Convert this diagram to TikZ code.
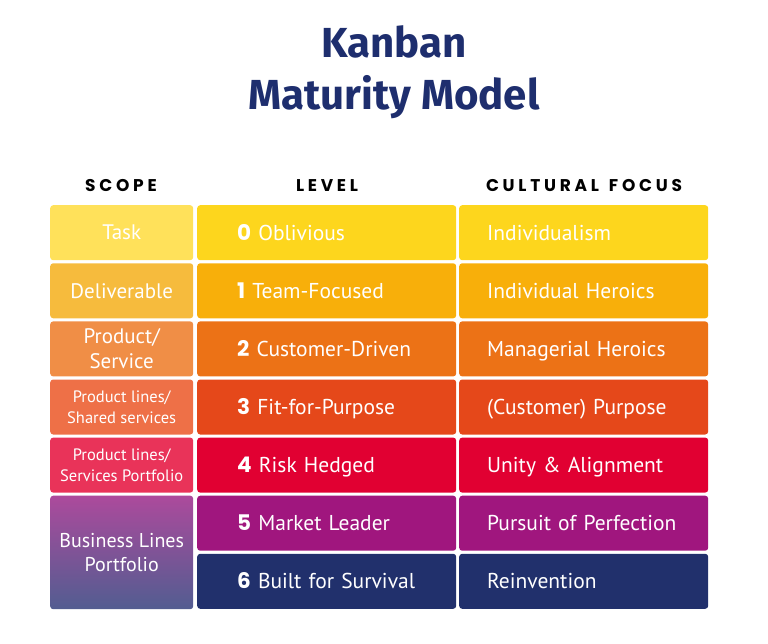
\documentclass[tikz,border=0pt]{standalone}
\usepackage{fontspec}
\setmainfont{PT Sans}
\newfontfamily\titlefont{Fira Sans}
\newfontfamily\headfont[LetterSpace=22]{Poppins}
\newfontfamily\numfont{Poppins}

\definecolor{kmnavy}{HTML}{1E2E6E}
% scope column
\definecolor{sc0}{HTML}{FFE15A}
\definecolor{sc1}{HTML}{F6BB3D}
\definecolor{sc2}{HTML}{F08E46}
\definecolor{sc3}{HTML}{EE7047}
\definecolor{sc4}{HTML}{E93359}
\definecolor{sc5a}{HTML}{AC4A9C}
\definecolor{sc5b}{HTML}{525D91}
% level and cultural focus columns
\definecolor{lv0}{HTML}{FDD61D}
\definecolor{lv1}{HTML}{F8AF0A}
\definecolor{lv2}{HTML}{EC7216}
\definecolor{lv3}{HTML}{E5481A}
\definecolor{lv4}{HTML}{E10032}
\definecolor{lv5}{HTML}{A0167E}
\definecolor{lv6}{HTML}{21306C}

\begin{document}
\begin{tikzpicture}[x=1pt,y=-1pt,
 cell/.style={rectangle,rounded corners=3pt,anchor=north west,
   minimum height=55pt,inner sep=0pt,text=white},
 scopecell/.style={cell,minimum width=143pt,align=center,
   font=\fontsize{21}{25}\selectfont},
 smallscope/.style={scopecell,font=\fontsize{16.5}{21}\selectfont},
 lvlcell/.style={cell,text width=179pt,inner xsep=40pt,align=left,
   text height=15pt,text depth=0pt,font=\fontsize{21.5}{25}\selectfont},
 cultcell/.style={lvlcell,text width=193pt,inner xsep=28pt},
 head/.style={anchor=base,font=\headfont\bfseries\fontsize{17}{20}\selectfont},
 title/.style={anchor=base,text=kmnavy,
   font=\titlefont\bfseries\fontsize{42}{50}\selectfont}]

  \useasboundingbox (0,0) rectangle (768,643);

  \node[title] (kanban) at (394,57) {Kanban};
  \node[title] (maturity) at (394,109) {Maturity Model};

  \node[head] (hscope) at (121,191) {SCOPE};
  \node[head] (hlevel) at (327,191) {LEVEL};
  \node[head] (hfocus) at (584,191) {CULTURAL\hspace{10pt}FOCUS};

  \node[scopecell,fill=sc0] (sc0) at (50,205) {Task};
  \node[scopecell,fill=sc1] (sc1) at (50,263.1) {Deliverable};
  \node[scopecell,fill=sc2] (sc2) at (50,321.2) {Product/\\Service};
  \node[smallscope,fill=sc3] (sc3) at (50,379.3) {Product lines/\\Shared services};
  \node[smallscope,fill=sc4] (sc4) at (50,437.4) {Product lines/\\Services Portfolio};
  \node[scopecell,minimum height=113.5pt,top color=sc5a,bottom color=sc5b,
    font=\fontsize{20}{24}\selectfont]
    (sc5) at (50,495.5) {Business Lines\\Portfolio};

  \foreach \i/\lvl/\cult in {0/Oblivious/Individualism,
    1/Team-Focused/Individual Heroics, 2/Customer-Driven/Managerial Heroics,
    3/Fit-for-Purpose/(Customer) Purpose, 4/Risk Hedged/Unity \& Alignment,
    5/Market Leader/Pursuit of Perfection, 6/Built for Survival/Reinvention} {
   \node[lvlcell,fill=lv\i] (lvl\i) at (197,{205+58.1*\i}) {{\numfont\bfseries\i} \lvl};
   \node[cultcell,fill=lv\i] (cult\i) at (459,{205+58.1*\i}) {\cult};}
\end{tikzpicture}
\end{document}
